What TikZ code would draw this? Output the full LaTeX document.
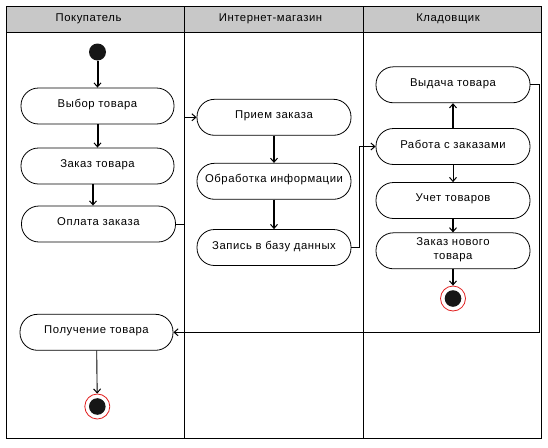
\documentclass[tikz,border=0pt]{standalone}
\usepackage{fontspec}
\setmainfont{Liberation Sans}[LetterSpace=5]
\usetikzlibrary{arrows.meta}
\definecolor{headgray}{RGB}{200,200,200}
\definecolor{dotblack}{RGB}{22,22,22}
\definecolor{ringred}{RGB}{225,30,30}
\begin{document}
\begin{tikzpicture}[x=1pt,y=-1pt,
  font=\fontsize{11.3}{13.6}\selectfont,
  every node/.style={inner sep=0pt},
  activity/.style={draw, line width=0.8pt, rounded corners=17.5pt,
    minimum width=154pt, minimum height=36pt, align=center, text depth=5pt},
  lane/.style={line width=1pt},
  tip/.style={-{Straight Barb[length=4pt,width=7pt,line width=1pt]}},
  flow/.style={tip, line width=2pt},
  thinflow/.style={tip, line width=0.9pt},
  startstate/.style={circle, fill=dotblack, minimum size=17pt},
  endstate/.style={circle, draw=ringred, line width=0.8pt, minimum size=25pt,
    path picture={\fill[dotblack] (path picture bounding box.center) circle (8.3pt);}}]

\useasboundingbox (0,0) rectangle (548,447);

% swimlane frame and header row
\fill[headgray] (6.5,6) rectangle (541,32.5);
\draw[lane] (6.5,6) rectangle (541,438);
\draw[lane] (6.5,32.5) -- (541,32.5);
\draw[lane] (184.3,6) -- (184.3,438);
\draw[lane] (363.3,6) -- (363.3,438);

\node (h1) at (88.5,18.5) {Покупатель};
\node (h2) at (270.5,18.5) {Интернет-магазин};
\node (h3) at (448,18.5) {Кладовщик};

% helper coordinates for the routed connectors
\coordinate (lane12) at (184.3,0);
\coordinate (bend2) at (359,0);
\coordinate (bend3) at (539.3,0);
\coordinate (col1off) at (93,0);

% lane 1
\node[startstate] (start) at (97.5,52) {};
\node[activity, minimum width=153pt] (vybor) at (97.5,106) {Выбор товара};
\node[activity, minimum width=153pt] (zakaz) at (97.5,166) {Заказ товара};
\node[activity, minimum width=154pt] (oplata) at (98.5,224) {Оплата заказа};
\node[activity, minimum width=153pt] (poluch) at (96.5,332.3) {Получение товара};
\node[endstate] (end1) at (97.3,406.5) {};

% lane 2
\node[activity] (priem) at (274,117.3) {Прием заказа};
\node[activity] (obrab) at (274,181.3) {Обработка информации};
\node[activity] (zapis) at (274,247.5) {Запись в базу данных};

% lane 3
\node[activity] (vydacha) at (453,84.8) {Выдача товара};
\node[activity] (rabota) at (453,146.5) {Работа с заказами};
\node[activity] (uchet) at (453,200.5) {Учет товаров};
\node[activity] (zakazNov) at (453,250.8) {Заказ нового\\товара};
\node[endstate] (end2) at (453,298.5) {};

% control flow
\draw[flow] (start) -- (vybor);
\draw[flow] (vybor) -- (zakaz);
\draw[flow] (zakaz.south -| col1off) -- (oplata.north -| col1off);
\draw[thinflow] (oplata.east) -- (oplata.east -| lane12) -- (priem.west -| lane12) -- (priem.west);
\draw[flow] (priem) -- (obrab);
\draw[flow] (obrab) -- (zapis);
\draw[thinflow] (zapis.east) -- (zapis.east -| bend2) -- (rabota.west -| bend2) -- (rabota.west);
\draw[flow] (rabota) -- (vydacha);
\draw[thinflow] (rabota) -- (uchet);
\draw[flow] (uchet) -- (zakazNov);
\draw[flow] (zakazNov) -- (end2);
\draw[thinflow] (vydacha.east) -- (vydacha.east -| bend3) -- (poluch.east -| bend3) -- (poluch.east);
\draw[thinflow] (poluch) -- (end1);
\end{tikzpicture}
\end{document}
